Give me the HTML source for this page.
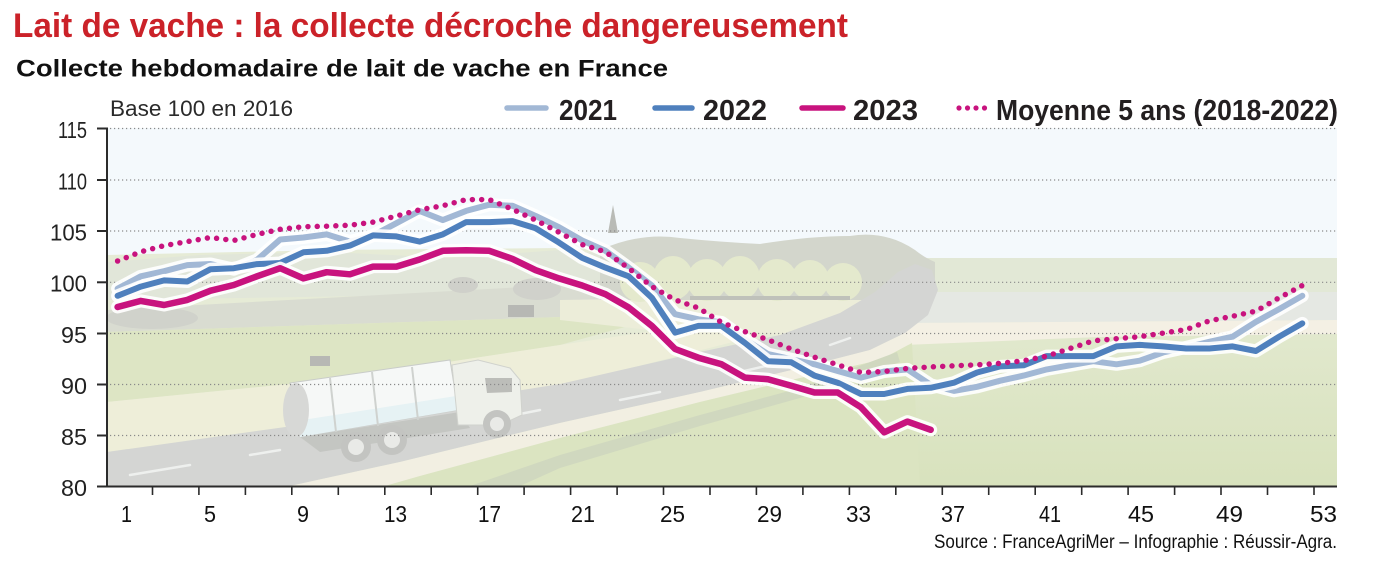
<!DOCTYPE html>
<html><head><meta charset="utf-8"><style>
html,body{margin:0;padding:0;background:#fff;}
svg{display:block;font-family:"Liberation Sans",Arial,sans-serif;}
</style></head><body>
<svg width="1400" height="562" viewBox="0 0 1400 562" xmlns="http://www.w3.org/2000/svg">
<defs>
<clipPath id="pc"><rect x="107" y="128" width="1230" height="358"/></clipPath>
<linearGradient id="gr" x1="0" y1="0" x2="0" y2="1"><stop offset="0" stop-color="#e1e8cd"/><stop offset="1" stop-color="#d8e2bd"/></linearGradient>
</defs>
<rect width="1400" height="562" fill="#fff"/>
<text x="13" y="37" font-size="34" font-weight="bold" fill="#cb2229" textLength="835" lengthAdjust="spacingAndGlyphs">Lait de vache : la collecte décroche dangereusement</text>
<text x="16" y="76.5" font-size="24" font-weight="bold" fill="#111" textLength="652" lengthAdjust="spacingAndGlyphs">Collecte hebdomadaire de lait de vache en France</text>
<text x="110" y="116" font-size="22.5" fill="#2a2a2a" textLength="183" lengthAdjust="spacingAndGlyphs">Base 100 en 2016</text>

<!-- legend -->
<line x1="507" y1="108" x2="546" y2="108" stroke="#a2b8d5" stroke-width="5.5" stroke-linecap="round"/>
<text x="559" y="120" font-size="29" font-weight="bold" fill="#231f20" textLength="58" lengthAdjust="spacingAndGlyphs">2021</text>
<line x1="655" y1="108" x2="692" y2="108" stroke="#4f80bd" stroke-width="5.5" stroke-linecap="round"/>
<text x="703" y="120" font-size="29" font-weight="bold" fill="#231f20" textLength="64" lengthAdjust="spacingAndGlyphs">2022</text>
<line x1="802" y1="108" x2="843" y2="108" stroke="#c8137e" stroke-width="5.5" stroke-linecap="round"/>
<text x="853" y="120" font-size="29" font-weight="bold" fill="#231f20" textLength="65" lengthAdjust="spacingAndGlyphs">2023</text>
<g fill="#c8137e"><circle cx="959" cy="108" r="2.6"/><circle cx="967.5" cy="108" r="2.6"/><circle cx="976" cy="108" r="2.6"/><circle cx="984.5" cy="108" r="2.6"/></g>
<text x="996" y="120" font-size="29" font-weight="bold" fill="#231f20" textLength="342" lengthAdjust="spacingAndGlyphs">Moyenne 5 ans (2018-2022)</text>

<!-- background illustration -->
<g clip-path="url(#pc)">
<rect x="107" y="128" width="1230" height="358" fill="#f4f9fc"/>
<!-- right distant land -->
<polygon points="880,258 1337,258 1337,486 880,486" fill="#e2e8d6"/>
<polygon points="900,292 1337,292 1337,320 900,323" fill="#e5e8e3"/>
<polygon points="900,323 1337,320 1337,334 1100,337 900,346" fill="#f4f0e4"/>
<polygon points="880,346 1100,337 1337,334 1337,486 880,486" fill="url(#gr)"/>
<!-- left fields base -->
<polygon points="107,255 330,250 560,248 900,258 900,486 107,486" fill="#e6ebd6"/>
<polygon points="107,262 200,255 330,252 450,258 560,250 620,255 620,292 107,300" fill="#e1e6d9"/>
<polygon points="107,310 560,285 650,292 650,305 560,317 107,332" fill="#d9dcd1"/>
<ellipse cx="152" cy="318" rx="46" ry="11" fill="#d0d2cb"/>
<polygon points="107,332 560,317 650,320 560,345 330,380 107,402" fill="#dde5c4"/>
<polygon points="107,402 330,380 560,345 660,330 780,330 560,386 300,425 107,452" fill="#eeeed9"/>
<polygon points="560,300 700,298 880,290 880,330 780,335 650,330 560,320" fill="#ecedd9"/>
<!-- center hills & trees -->
<path d="M600,250 Q640,232 680,238 Q720,242 760,244 Q810,236 850,236 Q885,230 915,250 Q925,258 935,262 L935,280 L900,300 L600,300 Z" fill="#d3d6cc"/>
<polygon points="608,233 613,205 618,233" fill="#b9bbb6"/>
<g fill="#e4e9cd">
<ellipse cx="640" cy="282" rx="20" ry="20"/><ellipse cx="673" cy="278" rx="20" ry="22"/><ellipse cx="707" cy="280" rx="20" ry="21"/>
<ellipse cx="740" cy="278" rx="20" ry="22"/><ellipse cx="777" cy="280" rx="20" ry="21"/><ellipse cx="810" cy="280" rx="19" ry="20"/><ellipse cx="843" cy="282" rx="19" ry="19"/>
</g>
<rect x="690" y="296" width="160" height="4" fill="#bfc1ba"/>
<ellipse cx="463" cy="285" rx="15" ry="8" fill="#cfd0ca"/>
<ellipse cx="537" cy="289" rx="24" ry="11" fill="#d0d1cb"/>
<rect x="508" y="305" width="26" height="12" fill="#b7b8b4"/>
<rect x="310" y="356" width="20" height="10" fill="#b7b8b4"/>
<!-- road -->
<path d="M107,452 L300,425 L560,384 L700,352 L780,335 L840,313 L875,292 L898,272 L915,264 L932,270 L938,290 L928,315 L905,333 L870,350 L800,368 L700,392 L560,423 L400,462 L290,486 L107,486 Z" fill="#d4d5d3"/>
<path d="M290,486 L400,462 L560,423 L700,392 L800,368 L870,350 L905,333 L912,343 L880,360 L800,378 L700,402 L560,438 L420,476 L385,486 Z" fill="#f2efe2"/>
<path d="M385,486 L420,476 L560,438 L700,402 L800,378 L880,360 L912,343 L920,486 Z" fill="#dbe4c1"/>
<path d="M470,486 L560,455 L700,415 L800,388 L897,352 L900,362 L800,398 L700,426 L560,468 L520,486 Z" fill="#d0d8bf"/>
<g stroke="#eef0ee" stroke-width="2.5" stroke-linecap="round">
<line x1="130" y1="475" x2="190" y2="465"/><line x1="250" y1="455" x2="280" y2="450"/><line x1="500" y1="418" x2="540" y2="410"/><line x1="620" y1="400" x2="660" y2="392"/><line x1="740" y1="372" x2="770" y2="365"/><line x1="830" y1="345" x2="850" y2="338"/>
</g>
<!-- truck -->
<polygon points="300,437 460,412 470,428 320,452" fill="#c4c6c2"/>
<polygon points="290,383 450,360 458,410 300,437" fill="#f6f8f7" stroke="#c9ccc9" stroke-width="1"/>
<polygon points="296,421 456,396 458,410 300,437" fill="#e6f2f4"/>
<ellipse cx="296" cy="410" rx="13" ry="27" fill="#d7d8d6"/>
<g stroke="#cfd2cf" stroke-width="2"><line x1="330" y1="378" x2="336" y2="432"/><line x1="372" y1="372" x2="378" y2="426"/><line x1="412" y1="367" x2="418" y2="420"/></g>
<polygon points="452,365 478,360 510,368 520,380 522,415 500,425 458,425" fill="#eef0ea" stroke="#d0d2cd" stroke-width="1"/>
<polygon points="485,378 512,378 512,392 487,393" fill="#bcbdb9"/>
<g fill="#c3c4c1"><circle cx="356" cy="447" r="15"/><circle cx="392" cy="440" r="15"/><circle cx="497" cy="424" r="14"/></g>
<g fill="#e9eae7"><circle cx="356" cy="447" r="8"/><circle cx="392" cy="440" r="8"/><circle cx="497" cy="424" r="7"/></g>
</g>

<!-- grid -->
<g stroke="#8a8a8a" stroke-width="1.2" stroke-dasharray="1.2 2.8">
<line x1="110" y1="128.5" x2="1337" y2="128.5"/><line x1="110" y1="180" x2="1337" y2="180"/><line x1="110" y1="231" x2="1337" y2="231"/><line x1="110" y1="282.3" x2="1337" y2="282.3"/><line x1="110" y1="333.5" x2="1337" y2="333.5"/><line x1="110" y1="384.5" x2="1337" y2="384.5"/><line x1="110" y1="435.5" x2="1337" y2="435.5"/>
</g>

<!-- series -->
<g fill="none" stroke-linejoin="round" stroke-linecap="round">
<polyline stroke="#fff" stroke-opacity="0.9" stroke-width="13" points="117.6,288.6 140.8,276.3 164.1,271.2 187.3,265.1 210.5,264.0 233.8,269.2 257.0,259.9 280.2,239.5 303.4,237.5 326.7,234.4 349.9,241.6 373.1,235.5 396.4,223.2 419.6,210.9 442.8,220.1 466.1,210.9 489.3,204.7 512.5,205.8 535.7,216.0 559.0,227.2 582.2,240.5 605.4,250.8 628.7,267.6 651.9,285.5 675.1,314.2 698.4,319.3 721.6,322.4 744.8,339.3 768.0,354.1 791.3,359.2 814.5,364.3 837.7,371.0 861.0,377.6 884.2,371.5 907.4,369.4 930.7,384.8 953.9,390.9 977.1,386.8 1000.3,380.7 1023.6,375.6 1046.8,369.4 1070.0,365.3 1093.3,361.2 1116.5,364.3 1139.7,360.7 1163.0,352.5 1186.2,347.4 1209.4,341.8 1232.6,336.7 1255.9,321.9 1279.1,309.1 1302.3,295.8"/>
<polyline stroke="#a2b8d5" stroke-width="6" points="117.6,288.6 140.8,276.3 164.1,271.2 187.3,265.1 210.5,264.0 233.8,269.2 257.0,259.9 280.2,239.5 303.4,237.5 326.7,234.4 349.9,241.6 373.1,235.5 396.4,223.2 419.6,210.9 442.8,220.1 466.1,210.9 489.3,204.7 512.5,205.8 535.7,216.0 559.0,227.2 582.2,240.5 605.4,250.8 628.7,267.6 651.9,285.5 675.1,314.2 698.4,319.3 721.6,322.4 744.8,339.3 768.0,354.1 791.3,359.2 814.5,364.3 837.7,371.0 861.0,377.6 884.2,371.5 907.4,369.4 930.7,384.8 953.9,390.9 977.1,386.8 1000.3,380.7 1023.6,375.6 1046.8,369.4 1070.0,365.3 1093.3,361.2 1116.5,364.3 1139.7,360.7 1163.0,352.5 1186.2,347.4 1209.4,341.8 1232.6,336.7 1255.9,321.9 1279.1,309.1 1302.3,295.8"/>
<polyline stroke="#fff" stroke-opacity="0.9" stroke-width="13" points="117.6,295.8 140.8,286.6 164.1,280.4 187.3,281.5 210.5,269.2 233.8,268.2 257.0,264.1 280.2,263.0 303.4,252.3 326.7,250.8 349.9,245.6 373.1,235.4 396.4,236.4 419.6,241.6 442.8,234.4 466.1,222.1 489.3,222.1 512.5,221.1 535.7,228.3 559.0,242.6 582.2,257.9 605.4,267.6 628.7,276.3 651.9,297.8 675.1,332.6 698.4,325.9 721.6,325.9 744.8,342.8 768.0,361.2 791.3,362.3 814.5,375.6 837.7,382.7 861.0,394.0 884.2,394.0 907.4,388.9 930.7,387.8 953.9,382.7 977.1,372.5 1000.3,366.4 1023.6,365.3 1046.8,356.1 1070.0,356.1 1093.3,356.1 1116.5,346.4 1139.7,344.9 1163.0,346.4 1186.2,348.5 1209.4,348.5 1232.6,346.4 1255.9,351.0 1279.1,336.7 1302.3,323.4"/>
<polyline stroke="#4f80bd" stroke-width="6" points="117.6,295.8 140.8,286.6 164.1,280.4 187.3,281.5 210.5,269.2 233.8,268.2 257.0,264.1 280.2,263.0 303.4,252.3 326.7,250.8 349.9,245.6 373.1,235.4 396.4,236.4 419.6,241.6 442.8,234.4 466.1,222.1 489.3,222.1 512.5,221.1 535.7,228.3 559.0,242.6 582.2,257.9 605.4,267.6 628.7,276.3 651.9,297.8 675.1,332.6 698.4,325.9 721.6,325.9 744.8,342.8 768.0,361.2 791.3,362.3 814.5,375.6 837.7,382.7 861.0,394.0 884.2,394.0 907.4,388.9 930.7,387.8 953.9,382.7 977.1,372.5 1000.3,366.4 1023.6,365.3 1046.8,356.1 1070.0,356.1 1093.3,356.1 1116.5,346.4 1139.7,344.9 1163.0,346.4 1186.2,348.5 1209.4,348.5 1232.6,346.4 1255.9,351.0 1279.1,336.7 1302.3,323.4"/>
<polyline stroke="#fff" stroke-opacity="0.9" stroke-width="13" points="117.6,307.0 140.8,300.9 164.1,305.0 187.3,299.9 210.5,290.7 233.8,285.0 257.0,276.3 280.2,268.2 303.4,278.4 326.7,272.2 349.9,274.3 373.1,266.6 396.4,266.6 419.6,259.5 442.8,250.8 466.1,250.3 489.3,250.8 512.5,258.9 535.7,270.2 559.0,278.4 582.2,285.5 605.4,294.2 628.7,307.5 651.9,325.9 675.1,349.0 698.4,357.7 721.6,364.3 744.8,377.6 768.0,379.2 791.3,385.8 814.5,392.5 837.7,392.5 861.0,407.3 884.2,432.3 907.4,421.6 930.7,429.8"/>
<polyline stroke="#c8137e" stroke-width="6.5" points="117.6,307.0 140.8,300.9 164.1,305.0 187.3,299.9 210.5,290.7 233.8,285.0 257.0,276.3 280.2,268.2 303.4,278.4 326.7,272.2 349.9,274.3 373.1,266.6 396.4,266.6 419.6,259.5 442.8,250.8 466.1,250.3 489.3,250.8 512.5,258.9 535.7,270.2 559.0,278.4 582.2,285.5 605.4,294.2 628.7,307.5 651.9,325.9 675.1,349.0 698.4,357.7 721.6,364.3 744.8,377.6 768.0,379.2 791.3,385.8 814.5,392.5 837.7,392.5 861.0,407.3 884.2,432.3 907.4,421.6 930.7,429.8"/>
<polyline stroke="#c8137e" stroke-width="5.5" stroke-dasharray="0 9.3" points="117.6,261.0 140.8,251.8 164.1,245.6 187.3,241.6 210.5,237.5 233.8,240.5 257.0,234.4 280.2,229.3 303.4,226.7 326.7,226.2 349.9,225.2 373.1,222.1 396.4,216.0 419.6,209.8 442.8,205.7 466.1,199.6 489.3,199.6 512.5,209.3 535.7,220.1 559.0,232.3 582.2,244.6 605.4,251.8 628.7,268.2 651.9,286.6 675.1,299.9 698.4,308.0 721.6,322.4 744.8,331.6 768.0,339.8 791.3,349.0 814.5,357.2 837.7,364.8 861.0,372.5 884.2,371.5 907.4,368.4 930.7,366.9 953.9,365.8 977.1,364.8 1000.3,363.3 1023.6,360.7 1046.8,356.1 1070.0,348.5 1093.3,340.8 1116.5,338.7 1139.7,336.7 1163.0,333.1 1186.2,329.5 1209.4,320.8 1232.6,316.2 1255.9,311.1 1279.1,297.8 1302.3,285.5"/>
</g>

<!-- axes -->
<g stroke="#2b2b2b" stroke-width="2">
<line x1="107" y1="127.5" x2="107" y2="487"/>
<line x1="106" y1="486.5" x2="1337" y2="486.5"/>
<line x1="97" y1="128.5" x2="108" y2="128.5"/><line x1="97" y1="180" x2="107" y2="180"/><line x1="97" y1="231" x2="107" y2="231"/><line x1="97" y1="282.3" x2="107" y2="282.3"/><line x1="97" y1="333.5" x2="107" y2="333.5"/><line x1="97" y1="384.5" x2="107" y2="384.5"/><line x1="97" y1="435.5" x2="107" y2="435.5"/><line x1="97" y1="486.5" x2="107" y2="486.5"/>
</g>
<g stroke="#2b2b2b" stroke-width="1.6">
<line x1="152.5" y1="486" x2="152.5" y2="495"/><line x1="198.9" y1="486" x2="198.9" y2="495"/><line x1="245.4" y1="486" x2="245.4" y2="495"/><line x1="291.8" y1="486" x2="291.8" y2="495"/><line x1="338.3" y1="486" x2="338.3" y2="495"/><line x1="384.8" y1="486" x2="384.8" y2="495"/><line x1="431.2" y1="486" x2="431.2" y2="495"/><line x1="477.7" y1="486" x2="477.7" y2="495"/><line x1="524.1" y1="486" x2="524.1" y2="495"/><line x1="570.6" y1="486" x2="570.6" y2="495"/><line x1="617.1" y1="486" x2="617.1" y2="495"/><line x1="663.5" y1="486" x2="663.5" y2="495"/><line x1="710.0" y1="486" x2="710.0" y2="495"/><line x1="756.4" y1="486" x2="756.4" y2="495"/><line x1="802.9" y1="486" x2="802.9" y2="495"/><line x1="849.4" y1="486" x2="849.4" y2="495"/><line x1="895.8" y1="486" x2="895.8" y2="495"/><line x1="942.3" y1="486" x2="942.3" y2="495"/><line x1="988.7" y1="486" x2="988.7" y2="495"/><line x1="1035.2" y1="486" x2="1035.2" y2="495"/><line x1="1081.7" y1="486" x2="1081.7" y2="495"/><line x1="1128.1" y1="486" x2="1128.1" y2="495"/><line x1="1174.6" y1="486" x2="1174.6" y2="495"/><line x1="1221.0" y1="486" x2="1221.0" y2="495"/><line x1="1267.5" y1="486" x2="1267.5" y2="495"/><line x1="1314.0" y1="486" x2="1314.0" y2="495"/>
</g>

<!-- y labels -->
<g font-size="23.5" fill="#222">
<text x="58" y="138" textLength="29" lengthAdjust="spacingAndGlyphs">115</text>
<text x="58" y="189.3" textLength="29" lengthAdjust="spacingAndGlyphs">110</text>
<text x="50" y="240.3" textLength="37" lengthAdjust="spacingAndGlyphs">105</text>
<text x="50" y="291.6" textLength="37" lengthAdjust="spacingAndGlyphs">100</text>
<text x="61" y="342.8" textLength="26" lengthAdjust="spacingAndGlyphs">95</text>
<text x="61" y="393.8" textLength="26" lengthAdjust="spacingAndGlyphs">90</text>
<text x="61" y="444.8" textLength="26" lengthAdjust="spacingAndGlyphs">85</text>
<text x="61" y="495.8" textLength="26" lengthAdjust="spacingAndGlyphs">80</text>
</g>
<!-- x labels -->
<g font-size="23.5" fill="#111">
<text x="121" y="522" textLength="11" lengthAdjust="spacingAndGlyphs">1</text>
<text x="204" y="522" textLength="12" lengthAdjust="spacingAndGlyphs">5</text>
<text x="297" y="522" textLength="12" lengthAdjust="spacingAndGlyphs">9</text>
<text x="384" y="522" textLength="23" lengthAdjust="spacingAndGlyphs">13</text>
<text x="478" y="522" textLength="23" lengthAdjust="spacingAndGlyphs">17</text>
<text x="571" y="522" textLength="24" lengthAdjust="spacingAndGlyphs">21</text>
<text x="660" y="522" textLength="25" lengthAdjust="spacingAndGlyphs">25</text>
<text x="757" y="522" textLength="25" lengthAdjust="spacingAndGlyphs">29</text>
<text x="846" y="522" textLength="25" lengthAdjust="spacingAndGlyphs">33</text>
<text x="941" y="522" textLength="24" lengthAdjust="spacingAndGlyphs">37</text>
<text x="1039" y="522" textLength="22" lengthAdjust="spacingAndGlyphs">41</text>
<text x="1128" y="522" textLength="26" lengthAdjust="spacingAndGlyphs">45</text>
<text x="1216" y="522" textLength="27" lengthAdjust="spacingAndGlyphs">49</text>
<text x="1310" y="522" textLength="27" lengthAdjust="spacingAndGlyphs">53</text>
</g>
<text x="934" y="548" font-size="19" fill="#111" textLength="403" lengthAdjust="spacingAndGlyphs">Source : FranceAgriMer – Infographie : Réussir-Agra.</text>
</svg>
</body></html>
